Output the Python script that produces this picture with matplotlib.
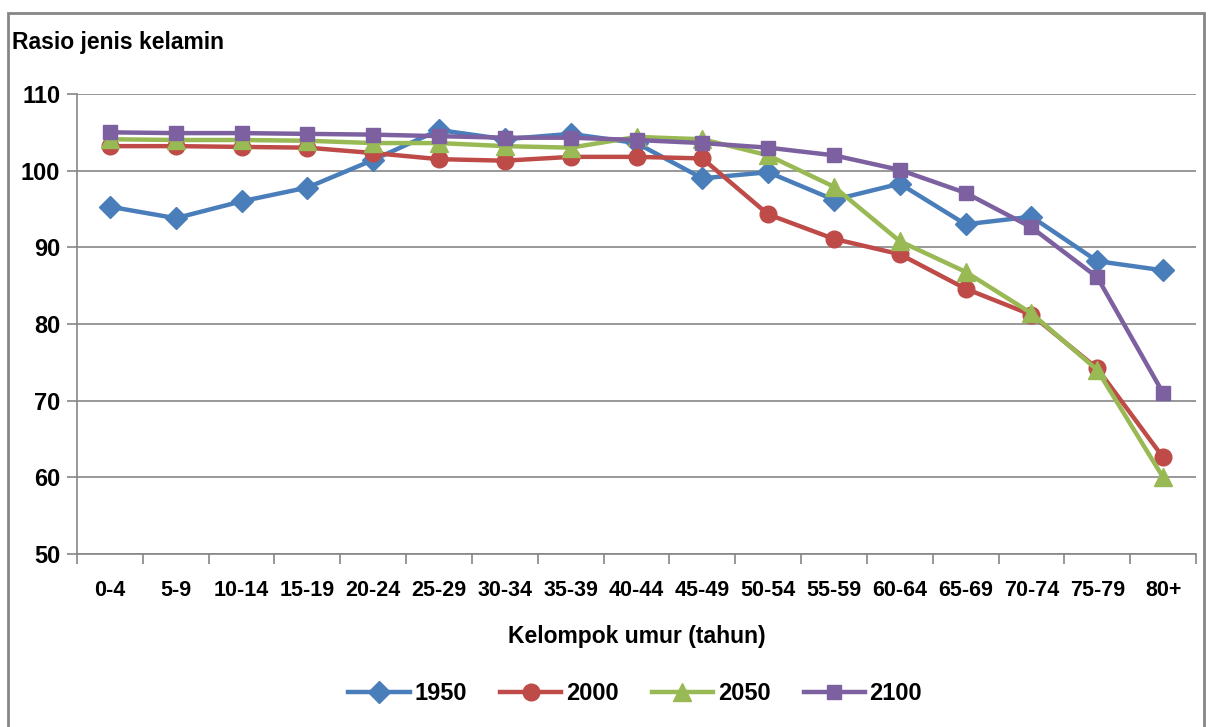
import numpy as np
import matplotlib.pyplot as plt
from matplotlib.patches import Rectangle

plt.rcParams['font.family'] = ['Liberation Sans Narrow', 'Liberation Sans', 'DejaVu Sans']
plt.rcParams['font.weight'] = 'bold'

umur = ['0-4', '5-9', '10-14', '15-19', '20-24', '25-29', '30-34', '35-39', '40-44',
        '45-49', '50-54', '55-59', '60-64', '65-69', '70-74', '75-79', '80+']
r1950 = [95.3, 93.8, 96.0, 97.8, 101.4, 105.3, 104.1, 104.8, 103.6, 99.0, 99.8, 96.2,
         98.3, 93.0, 94.0, 88.2, 87.0]
r2000 = [103.2, 103.2, 103.1, 103.0, 102.3, 101.5, 101.3, 101.8, 101.8, 101.6, 94.3,
         91.1, 89.1, 84.6, 81.2, 74.2, 62.6]
r2050 = [104.1, 104.0, 104.0, 103.9, 103.6, 103.6, 103.2, 103.0, 104.4, 104.1, 102.0,
         97.9, 90.8, 86.8, 81.4, 74.0, 60.0]
r2100 = [105.0, 104.9, 104.9, 104.8, 104.7, 104.5, 104.3, 104.3, 104.0, 103.6, 103.0,
         102.0, 100.1, 97.1, 92.6, 86.1, 71.0]

series = [('1950', r1950, '#4A7EBB', 'D', 11),
          ('2000', r2000, '#BE4B48', 'o', 12),
          ('2050', r2050, '#98B954', '^', 13),
          ('2100', r2100, '#7D60A0', 's', 10)]

fig = plt.figure(figsize=(12.1, 7.27), dpi=100)
ax = fig.add_axes([77/1210, 1-554/727, (1196-77)/1210, (554-94)/727])

x = np.arange(len(umur))
for nama, v, c, m, ms in series:
    ax.plot(x, v, color=c, lw=3.2, marker=m, ms=ms, label=nama, zorder=3)

ax.set_xlim(-0.5, len(umur) - 0.5)
ax.set_ylim(50, 110)
ax.set_yticks(np.arange(50, 111, 10))
ax.set_xticks(x)
ax.set_xticklabels(umur)
ax.set_xticks(np.arange(-0.5, len(umur), 1), minor=True)
ax.tick_params(axis='x', which='major', length=0, pad=19, labelsize=15.5)
ax.tick_params(axis='x', which='minor', length=7, color='#868686', width=1.2)
ax.tick_params(axis='y', length=7, color='#868686', width=1.2, labelsize=17, pad=5)
ax.grid(axis='y', color='#868686', lw=1.2)
ax.set_axisbelow(True)
for s in ['top', 'right']:
    ax.spines[s].set_visible(False)
for s in ['left', 'bottom']:
    ax.spines[s].set_color('#868686')
    ax.spines[s].set_linewidth(1.2)

ax.set_xlabel('Kelompok umur (tahun)', fontsize=16.5, fontweight='bold', labelpad=17)
fig.text(12/1210, 1-42/727, 'Rasio jenis kelamin', fontsize=16.5, fontweight='bold',
         va='center', ha='left')

fig.legend(loc='center', bbox_to_anchor=(0.525, 1-694/727), ncol=4, frameon=False,
           fontsize=17, handlelength=2.6, columnspacing=1.4, handletextpad=0.2)

fig.patches.append(Rectangle((8/1210, -0.01), (1204-8)/1210, 1-13/727 + 0.01,
                             transform=fig.transFigure, fill=False,
                             edgecolor='#868686', lw=2))

fig.savefig('out.png', dpi=100)
